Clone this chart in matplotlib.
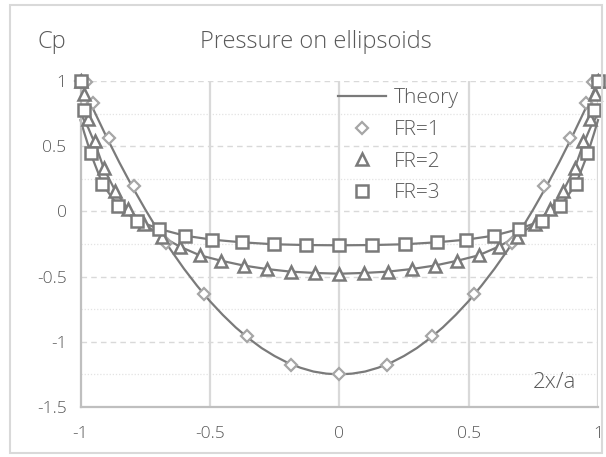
import matplotlib
matplotlib.use('Agg')
import matplotlib.pyplot as plt
from matplotlib.lines import Line2D
from matplotlib.patches import Rectangle

# Theory curves
theory1_x = [-1, -0.975, -0.95, -0.9, -0.85, -0.8, -0.75, -0.7, -0.65, -0.6, -0.55, -0.5, -0.45,
             -0.4, -0.35, -0.3, -0.25, -0.2, -0.15, -0.1, -0.05, 0,
             0.05, 0.1, 0.15, 0.2, 0.25, 0.3, 0.35, 0.4, 0.45, 0.5, 0.55, 0.6, 0.65, 0.7, 0.75,
             0.8, 0.85, 0.9, 0.95, 0.975, 1]
theory1_cp = [1.0, 0.889, 0.781, 0.573, 0.376, 0.19, 0.016, -0.148, -0.299, -0.44, -0.569, -0.688,
              -0.794, -0.89, -0.974, -1.048, -1.109, -1.16, -1.199, -1.228, -1.244, -1.25,
              -1.244, -1.228, -1.199, -1.16, -1.109, -1.048, -0.974, -0.89, -0.794, -0.688, -0.569,
              -0.44, -0.299, -0.148, 0.016, 0.19, 0.376, 0.573, 0.781, 0.889, 1.0]

theory2_x = [-1, -0.97, -0.94, -0.91, -0.865, -0.815, -0.756, -0.686, -0.616, -0.54, -0.457, -0.37,
             -0.28, -0.188, -0.094, 0, 0.094, 0.188, 0.28, 0.37, 0.457, 0.54, 0.616, 0.686, 0.756,
             0.815, 0.865, 0.91, 0.94, 0.97, 1]
theory2_cp = [0.75, 0.64, 0.5, 0.33, 0.155, 0.015, -0.095, -0.193, -0.27, -0.336, -0.378, -0.415,
              -0.442, -0.462, -0.472, -0.478, -0.472, -0.462, -0.442, -0.415, -0.378, -0.336, -0.27,
              -0.193, -0.095, 0.015, 0.155, 0.33, 0.5, 0.64, 0.75]

theory3_x = [-1, -0.985, -0.958, -0.915, -0.855, -0.783, -0.695, -0.598, -0.49, -0.376, -0.254, -0.127, 0,
             0.127, 0.254, 0.376, 0.49, 0.598, 0.695, 0.783, 0.855, 0.915, 0.958, 0.985, 1]
theory3_cp = [0.7, 0.6, 0.43, 0.21, 0.04, -0.07, -0.135, -0.186, -0.217, -0.237, -0.252, -0.258, -0.26,
              -0.258, -0.252, -0.237, -0.217, -0.186, -0.135, -0.07, 0.04, 0.21, 0.43, 0.6, 0.7]

# Computed points
fr1_x = [-1, -0.98, -0.952, -0.89, -0.793, -0.668, -0.522, -0.358, -0.186, 0,
         0.186, 0.358, 0.522, 0.668, 0.793, 0.89, 0.952, 0.98, 1]
fr1_cp = [1.0, 0.99, 0.83, 0.563, 0.193, -0.24, -0.634, -0.957, -1.175, -1.25,
          -1.175, -0.957, -0.634, -0.24, 0.193, 0.563, 0.83, 0.99, 1.0]

fr2_x = [-1, -0.988, -0.97, -0.943, -0.91, -0.865, -0.815, -0.756, -0.686, -0.616, -0.54, -0.457,
         -0.37, -0.28, -0.188, -0.094, 0, 0.094, 0.188, 0.28, 0.37, 0.457, 0.54, 0.616, 0.686,
         0.756, 0.815, 0.865, 0.91, 0.943, 0.97, 0.988, 1]
fr2_cp = [1.0, 0.9, 0.71, 0.54, 0.335, 0.155, 0.015, -0.095, -0.193, -0.27, -0.336, -0.378,
          -0.415, -0.442, -0.462, -0.472, -0.478, -0.472, -0.462, -0.442, -0.415, -0.378, -0.336,
          -0.27, -0.193, -0.095, 0.015, 0.155, 0.335, 0.54, 0.71, 0.9, 1.0]

fr3_x = [-1, -0.985, -0.958, -0.915, -0.855, -0.783, -0.695, -0.598, -0.49, -0.376, -0.254, -0.127, 0,
         0.127, 0.254, 0.376, 0.49, 0.598, 0.695, 0.783, 0.855, 0.915, 0.958, 0.985, 1]
fr3_cp = [1.0, 0.78, 0.45, 0.21, 0.04, -0.07, -0.135, -0.186, -0.217, -0.237, -0.252, -0.258, -0.26,
          -0.258, -0.252, -0.237, -0.217, -0.186, -0.135, -0.07, 0.04, 0.21, 0.45, 0.78, 1.0]

x_ticks = [-1, -0.5, 0, 0.5, 1]
y_ticks = [-1.5, -1, -0.5, 0, 0.5, 1]

FONT = 'Open Sans'
TEXT = '#595959'
LINE = '#7a7a7a'
DARK = '#7a7a7a'
LIGHT = '#a6a6a6'

plt.rcParams['font.family'] = [FONT, 'DejaVu Sans']
plt.rcParams['font.weight'] = 'light'

W, H = 606, 457
fig = plt.figure(figsize=(W / 100, H / 100), dpi=100, facecolor='white')
ax = fig.add_axes([80.5 / W, 1 - 407 / H, (598 - 80.5) / W, (407 - 81) / H])

# grid
for y in [-1.25, -0.75, -0.25, 0.25, 0.75]:
    ax.axhline(y, color='#e3e3e3', lw=0.9, ls=(0, (1, 1.5)), zorder=0)
for y in [-1, -0.5, 0, 0.5, 1]:
    ax.axhline(y, color='#d9d9d9', lw=1.0, ls=(0, (4, 3)), zorder=0)
for x in [-0.5, 0, 0.5, 1]:
    ax.axvline(x, color='#d9d9d9', lw=1.6, zorder=0)

ax.plot(theory1_x, theory1_cp, color=LINE, lw=1.6, zorder=2, clip_on=False)
ax.plot(theory2_x, theory2_cp, color=LINE, lw=1.6, zorder=2, clip_on=False)
ax.plot(theory3_x, theory3_cp, color=LINE, lw=1.6, zorder=2, clip_on=False)

ax.plot(fr1_x, fr1_cp, ls='none', marker='D', ms=6.5, mfc='white', mec=LIGHT, mew=1.6,
        zorder=3, clip_on=False)
ax.plot(fr2_x, fr2_cp, ls='none', marker='^', ms=9, mfc='white', mec=DARK, mew=1.8,
        zorder=4, clip_on=False)
ax.plot(fr3_x, fr3_cp, ls='none', marker='s', ms=8, mfc='white', mec=DARK, mew=1.8,
        zorder=5, clip_on=False)

ax.set_xlim(-1, 1)
ax.set_ylim(-1.5, 1)
ax.set_xticks(x_ticks)
ax.set_yticks(y_ticks)
ax.set_xticklabels(['-1', '-0.5', '0', '0.5', '1'])
ax.set_yticklabels(['-1.5', '-1', '-0.5', '0', '0.5', '1'])
ax.tick_params(length=0, labelsize=12.5, colors=TEXT)
ax.tick_params(axis='x', pad=14)
ax.tick_params(axis='y', pad=10)
for s in ['top', 'right']:
    ax.spines[s].set_visible(False)
for s in ['left', 'bottom']:
    ax.spines[s].set_color('#bfbfbf')
    ax.spines[s].set_linewidth(1.6)

handles = [
    Line2D([], [], color=LINE, lw=1.6),
    Line2D([], [], ls='none', marker='D', ms=6, mfc='white', mec=LIGHT, mew=1.6),
    Line2D([], [], ls='none', marker='^', ms=8, mfc='white', mec=DARK, mew=1.8),
    Line2D([], [], ls='none', marker='s', ms=8, mfc='white', mec=DARK, mew=1.8),
]
leg = fig.legend(handles, ['Theory', 'FR=1', 'FR=2', 'FR=3'], loc='upper left',
                 bbox_to_anchor=(330 / W, 1 - 80 / H), frameon=False, fontsize=15,
                 handlelength=2.3, handletextpad=0.35, labelspacing=0.56, borderaxespad=0)
for t in leg.get_texts():
    t.set_color(TEXT)

fig.text(52 / W, 1 - 42 / H, 'Cp', ha='center', va='center', fontsize=17, color=TEXT)
fig.text(316 / W, 1 - 42 / H, 'Pressure on ellipsoids', ha='center', va='center',
         fontsize=17, color=TEXT)
fig.text(576 / W, 1 - 383 / H, '2x/a', ha='right', va='center', fontsize=16, color=TEXT)

fig.patches.append(Rectangle((10 / W, 4 / H), 592 / W, 448 / H, transform=fig.transFigure,
                             fill=False, edgecolor='#d9d9d9', lw=1.5))

fig.savefig('out.png', dpi=100, facecolor='white')
